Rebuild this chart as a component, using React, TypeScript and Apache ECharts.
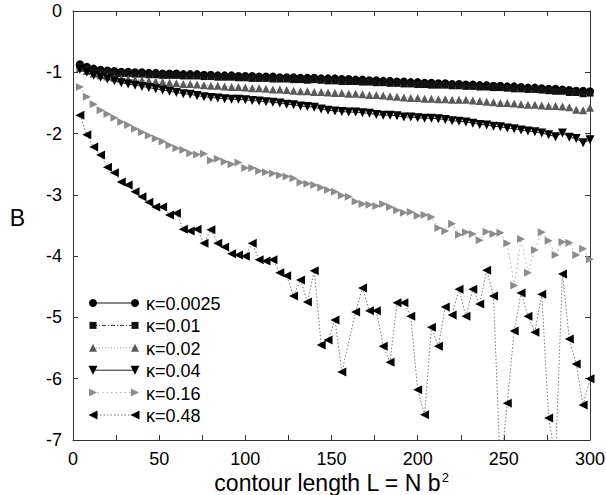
import React, { useEffect, useRef } from "react";
import * as echarts from "echarts";

const FONT = "'Liberation Sans', Arial, Helvetica, sans-serif";

// contour length L (x values), step 4
const contourLength = [
  4, 8, 12, 16, 20, 24, 28, 32, 36, 40, 44, 48, 52, 56, 60, 64, 68, 72, 76, 80,
  84, 88, 92, 96, 100, 104, 108, 112, 116, 120, 124, 128, 132, 136, 140, 144, 148, 152, 156, 160,
  164, 168, 172, 176, 180, 184, 188, 192, 196, 200, 204, 208, 212, 216, 220, 224, 228, 232, 236, 240,
  244, 248, 252, 256, 260, 264, 268, 272, 276, 280, 284, 288, 292, 296, 300,
];

const kappa0025 = [
  -0.87, -0.91, -0.94, -0.96, -0.97, -0.98, -0.99, -0.99, -1.0, -1.0,
  -1.01, -1.01, -1.02, -1.02, -1.02, -1.03, -1.03, -1.03, -1.04, -1.04,
  -1.05, -1.05, -1.05, -1.06, -1.06, -1.06, -1.07, -1.07, -1.07, -1.08,
  -1.08, -1.08, -1.09, -1.09, -1.09, -1.1, -1.1, -1.1, -1.11, -1.11,
  -1.12, -1.12, -1.13, -1.13, -1.14, -1.14, -1.15, -1.15, -1.16, -1.16,
  -1.17, -1.17, -1.18, -1.18, -1.19, -1.19, -1.2, -1.2, -1.21, -1.21,
  -1.22, -1.22, -1.23, -1.23, -1.24, -1.25, -1.25, -1.26, -1.27, -1.27,
  -1.28, -1.29, -1.3, -1.3, -1.31,
];

const kappa001 = [
  -0.9, -0.94, -0.97, -0.99, -1.0, -1.01, -1.02, -1.02, -1.03, -1.03,
  -1.04, -1.04, -1.05, -1.05, -1.05, -1.06, -1.06, -1.06, -1.07, -1.07,
  -1.08, -1.08, -1.08, -1.09, -1.09, -1.1, -1.1, -1.1, -1.11, -1.11,
  -1.11, -1.12, -1.12, -1.13, -1.12, -1.13, -1.14, -1.14, -1.15, -1.15,
  -1.15, -1.16, -1.16, -1.17, -1.17, -1.18, -1.18, -1.19, -1.19, -1.2,
  -1.2, -1.21, -1.21, -1.21, -1.22, -1.22, -1.23, -1.23, -1.24, -1.24,
  -1.25, -1.25, -1.26, -1.27, -1.27, -1.28, -1.28, -1.29, -1.3, -1.31,
  -1.31, -1.33, -1.33, -1.35, -1.34,
];

const kappa002 = [
  -0.93, -0.98, -1.02, -1.05, -1.07, -1.09, -1.1, -1.11, -1.12, -1.13,
  -1.14, -1.15, -1.16, -1.17, -1.18, -1.19, -1.19, -1.2, -1.21, -1.22,
  -1.22, -1.23, -1.24, -1.24, -1.25, -1.26, -1.26, -1.27, -1.28, -1.28,
  -1.29, -1.3, -1.31, -1.31, -1.32, -1.32, -1.33, -1.34, -1.34, -1.35,
  -1.35, -1.36, -1.37, -1.37, -1.38, -1.39, -1.4, -1.41, -1.42, -1.42,
  -1.43, -1.43, -1.44, -1.44, -1.45, -1.45, -1.45, -1.46, -1.47, -1.48,
  -1.49, -1.5, -1.5, -1.51, -1.52, -1.53, -1.53, -1.54, -1.55, -1.55,
  -1.56, -1.57, -1.61, -1.62, -1.58,
];

const kappa004 = [
  -0.95, -1.0, -1.05, -1.08, -1.11, -1.14, -1.17, -1.19, -1.21, -1.23,
  -1.25, -1.27, -1.29, -1.31, -1.33, -1.35, -1.36, -1.38, -1.4, -1.41,
  -1.42, -1.43, -1.44, -1.44, -1.45, -1.46, -1.47, -1.48, -1.49, -1.5,
  -1.52, -1.53, -1.55, -1.56, -1.57, -1.6, -1.62, -1.63, -1.64, -1.65,
  -1.65, -1.66, -1.67, -1.69, -1.7, -1.7, -1.71, -1.73, -1.73, -1.74,
  -1.75, -1.75, -1.76, -1.77, -1.79, -1.8, -1.81, -1.83, -1.85, -1.86,
  -1.88, -1.89, -1.91, -1.92, -1.94, -1.96, -1.97, -1.99, -2.02, -2.05,
  -1.99, -2.06, -2.08, -2.15, -2.1,
];

const kappa016 = [
  -1.24, -1.4, -1.52, -1.62, -1.68, -1.74, -1.81, -1.86, -1.92, -1.98,
  -2.03, -2.08, -2.13, -2.19, -2.24, -2.27, -2.32, -2.34, -2.33, -2.44,
  -2.41, -2.46, -2.5, -2.47, -2.56, -2.56, -2.61, -2.63, -2.65, -2.68,
  -2.7, -2.73, -2.8, -2.82, -2.84, -2.88, -2.92, -2.95, -3.01, -3.03,
  -3.11, -3.15, -3.16, -3.18, -3.15, -3.2, -3.25, -3.29, -3.28, -3.34,
  -3.33, -3.36, -3.54, -3.59, -3.47, -3.65, -3.61, -3.64, -3.74, -3.6,
  -3.64, -3.62, -3.79, -4.48, -3.72, -4.27, -3.9, -3.61, -3.75, -3.98,
  -3.77, -3.78, -3.98, -3.88, -4.05,
];

// null = no point at that length
const kappa048 = [
  -1.7, -2.02, -2.22, -2.35, -2.55, -2.64, -2.79, -2.84, -2.95, -3.03,
  -3.12, -3.2, -3.2, -3.33, -3.3, -3.56, -3.59, -3.56, -3.79, -3.57,
  -3.79, -3.85, -3.96, -3.98, -4.0, -3.79, -4.06, -4.08, -4.06, -4.27,
  -4.32, -4.65, -4.39, -4.75, -4.24, -5.45, -5.37, -5.04, -5.89, null,
  -4.91, -4.52, -4.89, -4.89, -5.47, -5.73, -4.76, -4.76, -4.98, -6.18,
  -6.59, -5.16, -5.47, -4.83, -4.96, -4.54, -4.98, -4.54, -4.78, -4.23,
  -4.65, -7.5, -6.4, -5.22, -4.6, -4.98, -5.24, -4.62, -6.64, -7.3,
  -4.29, -5.35, -5.76, -6.43, -6.0,
];

const seriesNames = ["κ=0.0025", "κ=0.01", "κ=0.02", "κ=0.04", "κ=0.16", "κ=0.48"];
const seriesValues = [kappa0025, kappa001, kappa002, kappa004, kappa016, kappa048];

const xTicks = [0, 50, 100, 150, 200, 250, 300];

type Sty = {
  shape: "circle" | "rect" | "up" | "down" | "right" | "left";
  size: number;
  fill: string;
  line: string;
  dash: number[] | "solid";
};

const styles: Sty[] = [
  { shape: "circle", size: 8, fill: "#000", line: "#111", dash: "solid" },
  { shape: "rect", size: 7, fill: "#111", line: "#333", dash: [4, 2, 1, 2] },
  { shape: "up", size: 8, fill: "#5a5a5a", line: "#999", dash: [1, 2] },
  { shape: "down", size: 9, fill: "#000", line: "#222", dash: "solid" },
  { shape: "right", size: 8, fill: "#8c8c8c", line: "#aaa", dash: [1.5, 3] },
  { shape: "left", size: 9, fill: "#000", line: "#777", dash: [1.5, 2] },
];

function symbolOf(s: Sty): { symbol: string; rotate: number } {
  switch (s.shape) {
    case "circle":
      return { symbol: "circle", rotate: 0 };
    case "rect":
      return { symbol: "rect", rotate: 0 };
    case "up":
      return { symbol: "triangle", rotate: 0 };
    case "down":
      return { symbol: "triangle", rotate: 180 };
    case "right":
      return { symbol: "triangle", rotate: -90 };
    default:
      return { symbol: "triangle", rotate: 90 };
  }
}

function legendMarker(s: Sty, cx: number, cy: number): any {
  const h = s.size / 2;
  const style = { fill: s.fill };
  if (s.shape === "circle") return { type: "circle", shape: { cx, cy, r: h }, style };
  if (s.shape === "rect")
    return { type: "rect", shape: { x: cx - h, y: cy - h, width: s.size, height: s.size }, style };
  let pts: number[][] = [];
  if (s.shape === "up") pts = [[cx, cy - h], [cx + h, cy + h], [cx - h, cy + h]];
  if (s.shape === "down") pts = [[cx - h, cy - h], [cx + h, cy - h], [cx, cy + h]];
  if (s.shape === "right") pts = [[cx - h, cy - h], [cx + h, cy], [cx - h, cy + h]];
  if (s.shape === "left") pts = [[cx + h, cy - h], [cx - h, cy], [cx + h, cy + h]];
  return { type: "polygon", shape: { points: pts }, style };
}

export default function App() {
  const ref = useRef<HTMLDivElement>(null);

  useEffect(() => {
    if (!ref.current) return;
    const chart = echarts.init(ref.current, undefined, { renderer: "svg" });

    const axisLineStyle = { color: "#333", width: 1 };

    const series = seriesValues.map((vals, i) => {
      const s = styles[i];
      const sym = symbolOf(s);
      const data: number[][] = [];
      vals.forEach((v, k) => {
        if (v !== null && v !== undefined) data.push([contourLength[k], v as number]);
      });
      return {
        name: seriesNames[i],
        type: "line",
        data,
        symbol: sym.symbol,
        symbolRotate: sym.rotate,
        symbolSize: s.size,
        showAllSymbol: true,
        clip: true,
        itemStyle: { color: s.fill, borderWidth: 0 },
        lineStyle: { color: s.line, width: 1, type: s.dash },
        z: 2 + i,
      };
    });

    const legendGraphics: any[] = [];
    const x1 = 93;
    const x2 = 135;
    styles.forEach((s, i) => {
      const cy = 303 + i * 22.4;
      legendGraphics.push({
        type: "line",
        shape: { x1, y1: cy, x2, y2: cy },
        style: {
          stroke: s.line,
          lineWidth: 1,
          lineDash: s.dash === "solid" ? null : s.dash,
        },
        z: 10,
      });
      legendGraphics.push({ ...legendMarker(s, x1, cy), z: 11 });
      legendGraphics.push({ ...legendMarker(s, x2, cy), z: 11 });
      legendGraphics.push({
        type: "text",
        x: 146,
        y: cy + 1,
        style: {
          text: seriesNames[i],
          fontSize: 18,
          fontFamily: FONT,
          fill: "#000",
          verticalAlign: "middle",
          align: "left",
        },
        z: 11,
      });
    });

    chart.setOption({
      animation: false,
      backgroundColor: "#fff",
      grid: {
        left: 73,
        top: 11,
        right: 16,
        bottom: 55,
        containLabel: false,
        outerBoundsMode: "none",
      },
      xAxis: [
        {
          type: "value",
          position: "bottom",
          min: 0,
          max: 300,
          interval: 25,
          axisLine: { show: true, onZero: false, lineStyle: axisLineStyle },
          axisTick: { show: true, inside: true, length: 5, lineStyle: axisLineStyle },
          axisLabel: {
            formatter: (v: number) => (xTicks.includes(v) ? String(v) : ""),
            fontSize: 18,
            fontFamily: FONT,
            color: "#000",
            margin: 10,
          },
          splitLine: { show: false },
          name: "contour length L = N b{sup|2}",
          nameLocation: "middle",
          nameGap: 31,
          nameMoveOverlap: false,
          nameTextStyle: {
            fontSize: 23,
            fontFamily: FONT,
            color: "#000",
            rich: {
              sup: { fontSize: 13, fontFamily: FONT, color: "#000", verticalAlign: "top", padding: [0, 0, 0, 1] },
            },
          },
        },
        {
          type: "value",
          position: "top",
          min: 0,
          max: 300,
          interval: 25,
          axisLine: { show: true, onZero: false, lineStyle: axisLineStyle },
          axisTick: { show: true, inside: true, length: 5, lineStyle: axisLineStyle },
          axisLabel: { show: false },
          splitLine: { show: false },
        },
      ],
      yAxis: [
        {
          type: "value",
          position: "left",
          min: -7,
          max: 0,
          interval: 1,
          axisLine: { show: true, onZero: false, lineStyle: axisLineStyle },
          axisTick: { show: true, inside: true, length: 5, lineStyle: axisLineStyle },
          axisLabel: { fontSize: 18, fontFamily: FONT, color: "#000", margin: 11 },
          splitLine: { show: false },
          name: "B",
          nameLocation: "middle",
          nameRotate: 0,
          nameGap: 48,
          nameMoveOverlap: false,
          nameTextStyle: { fontSize: 23, fontFamily: FONT, color: "#000", verticalAlign: "bottom", lineHeight: 15 },
        },
        {
          type: "value",
          position: "right",
          min: -7,
          max: 0,
          interval: 1,
          axisLine: { show: true, onZero: false, lineStyle: axisLineStyle },
          axisTick: { show: true, inside: true, length: 5, lineStyle: axisLineStyle },
          axisLabel: { show: false },
          splitLine: { show: false },
        },
      ],
      series,
      graphic: legendGraphics,
    });

    return () => {
      chart.dispose();
    };
  }, []);

  return (
    <div
      ref={ref}
      style={{ position: "fixed", left: 0, top: 0, width: 606, height: 495, background: "#fff" }}
    />
  );
}
